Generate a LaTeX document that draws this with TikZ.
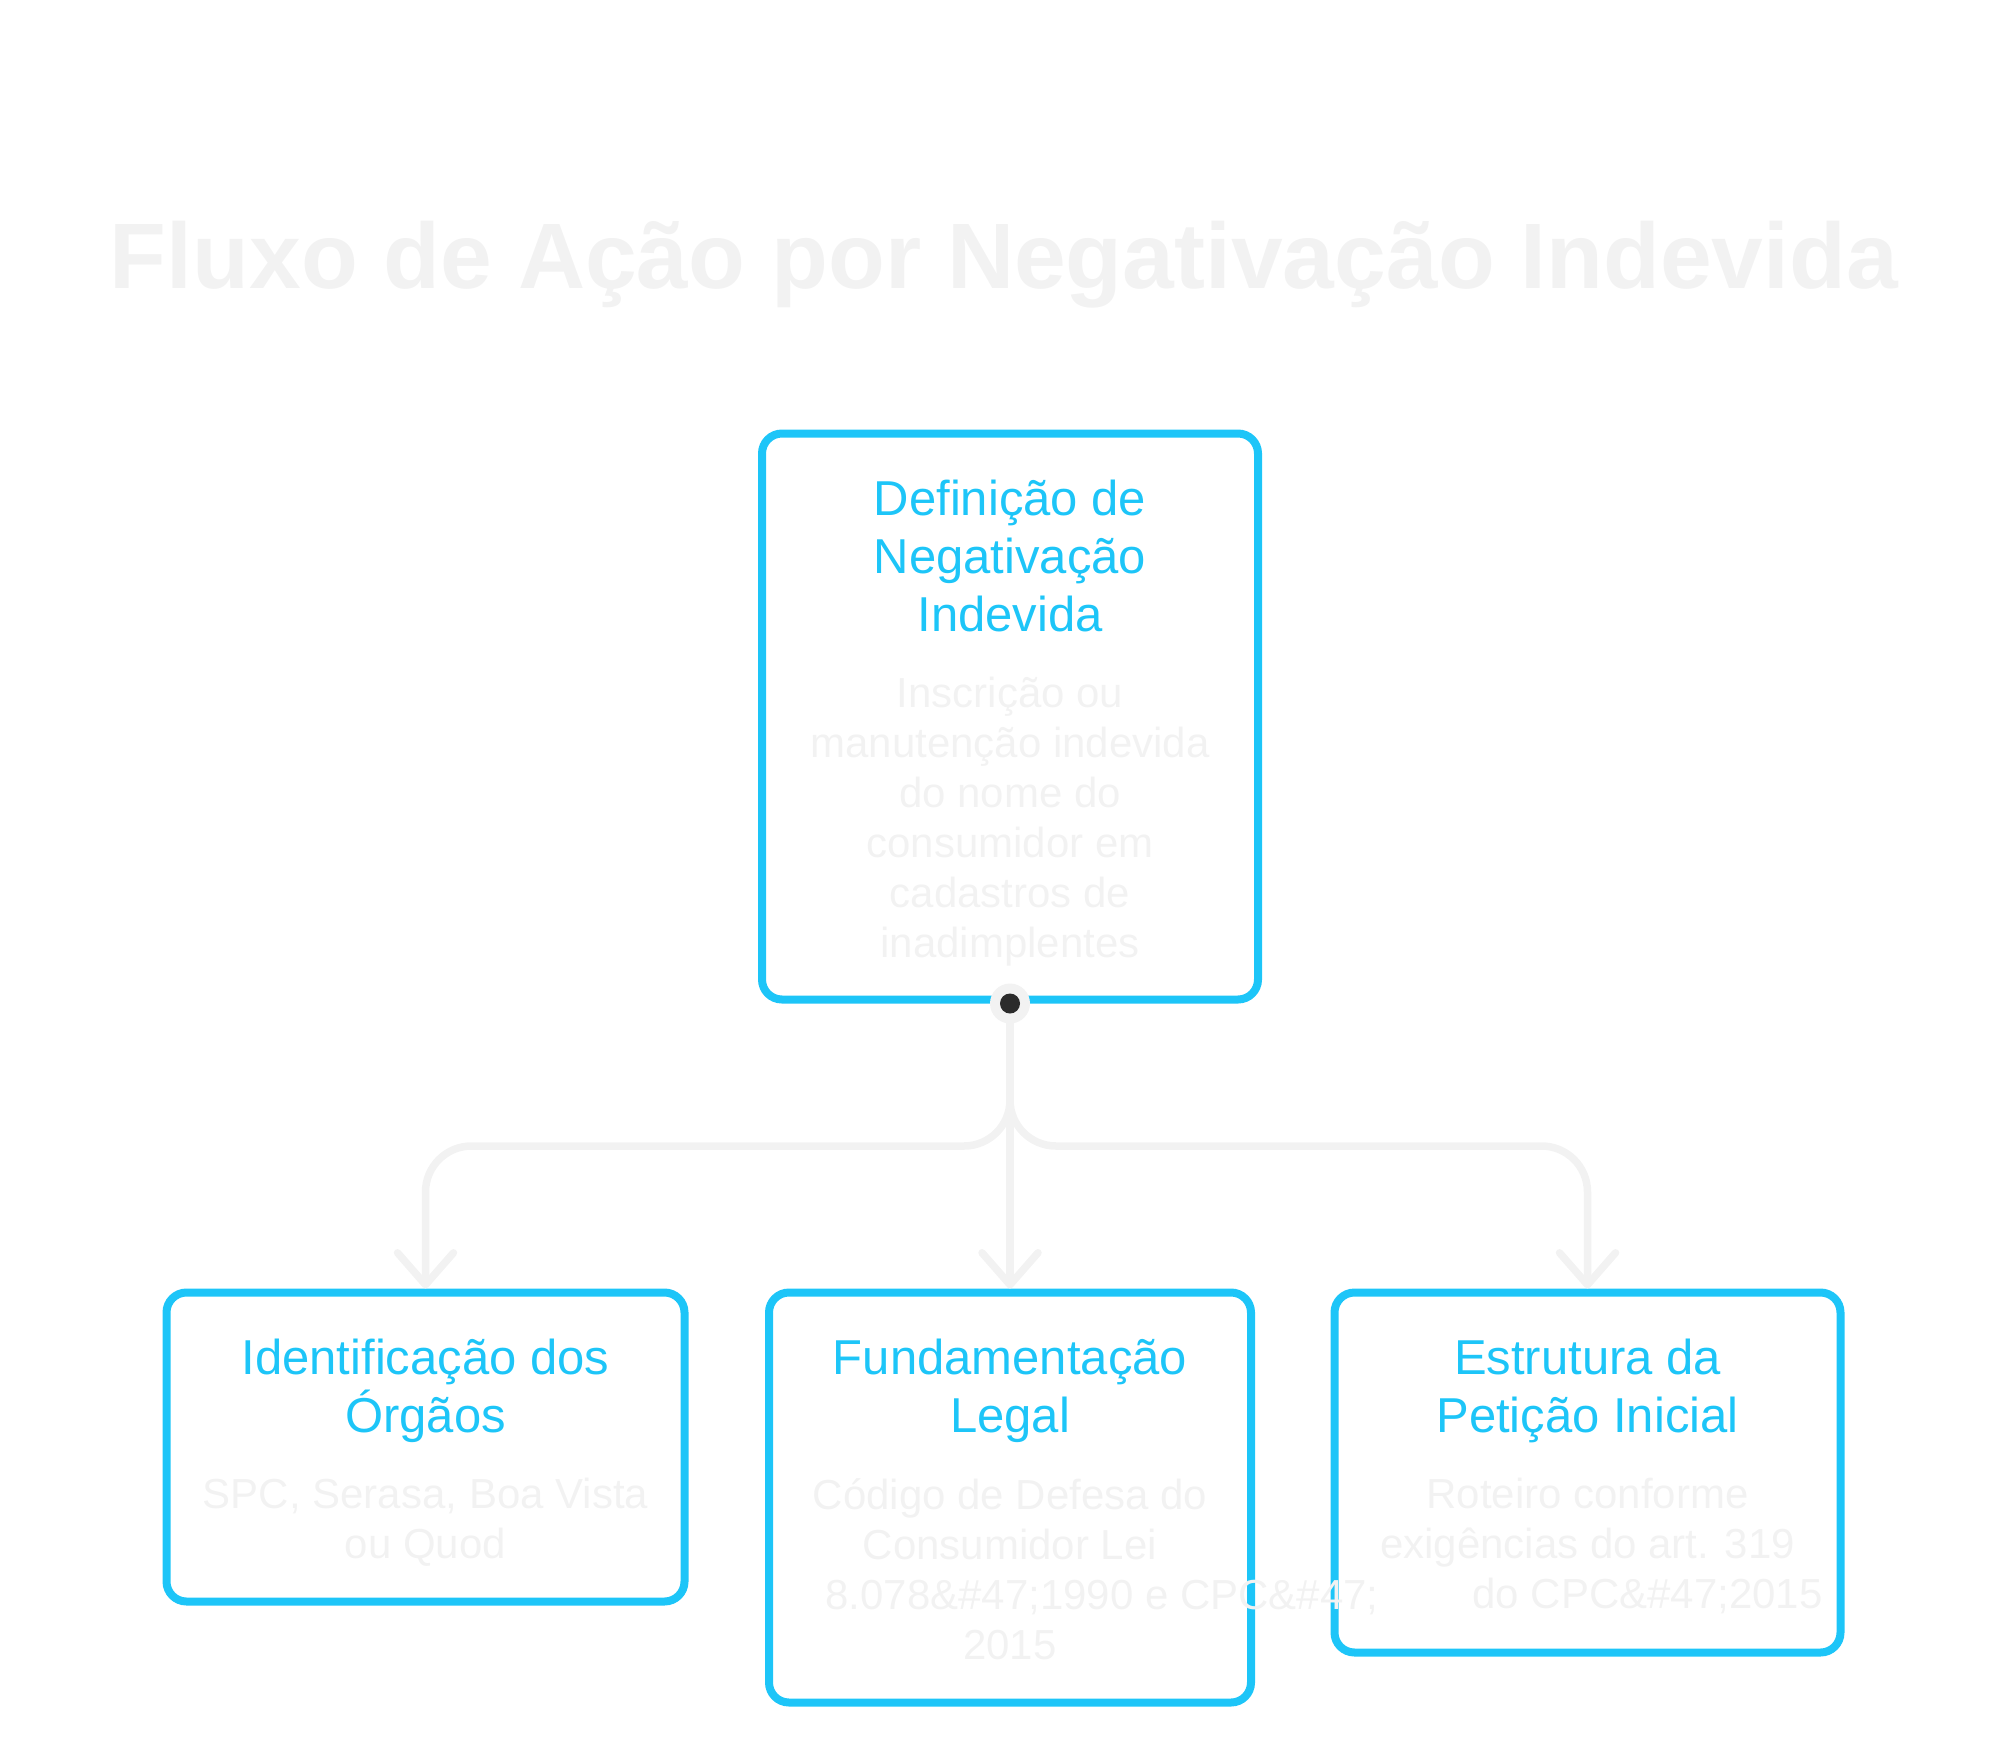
\documentclass[tikz,border=0pt]{standalone}
\usepackage{fontspec}
\setmainfont{Liberation Sans}
\usepackage{tikz}
\usetikzlibrary{arrows.meta,calc,positioning}
\definecolor{cardcyan}{HTML}{1DC5F8}
\colorlet{paleink}{black!5}
\definecolor{dotink}{HTML}{2B2B2B}

\begin{document}
\begin{tikzpicture}[x=0.5pt,y=-0.5pt,>={Straight Barb[length=16pt,width=28pt,round]},
  card/.style={draw=cardcyan,line width=4pt,rounded corners=10pt,anchor=north,inner sep=0pt},
  cardtitle/.style={anchor=north,align=center,inner sep=0pt,text=cardcyan,font=\fontsize{24.5pt}{29pt}\selectfont},
  carddesc/.style={anchor=north,align=center,inner sep=0pt,text=paleink,font=\fontsize{21pt}{25pt}\selectfont},
  flow/.style={->,draw=paleink,line width=3.75pt,rounded corners=23pt}]
\useasboundingbox (0,0) rectangle (2008,1762);
\node[anchor=base,text=paleink,font=\fontsize{46.5pt}{56pt}\selectfont\bfseries] (heading) at (1004,288) {Fluxo de Ação por Negativação Indevida};
% boxes
\node[card,minimum width=248pt,minimum height=283pt] (defin) at (1010,429.5) {};
\node[card,minimum width=259pt,minimum height=154.5pt] (orgaos) at (425.5,1288.5) {};
\node[card,minimum width=241pt,minimum height=205pt] (fundam) at (1010,1288.5) {};
\node[card,minimum width=253pt,minimum height=180pt] (peticao) at (1587.5,1288.5) {};
% connectors
\coordinate (split) at ($(defin.south)!0.5!(fundam.north)$);
\draw[flow] (defin.south) -- (split) -| (orgaos.north);
\draw[flow] (defin.south) -- (fundam.north);
\draw[flow] (defin.south) -- (split) -| (peticao.north);
\fill[paleink] (defin.south) circle (10pt);
\fill[dotink] (defin.south) circle (5pt);
% texts
\node[cardtitle] (defin-t) at ($(defin.north)+(0,50)$) {Definição de\\Negativação\\Indevida};
\node[carddesc] (defin-d) at ($(defin.north)+(0,247.5)$) {Inscrição ou\\manutenção indevida\\do nome do\\consumidor em\\cadastros de\\inadimplentes};
\node[cardtitle] (orgaos-t) at ($(orgaos.north)+(0,50)$) {Identificação dos\\Órgãos};
\node[carddesc] (orgaos-d) at ($(orgaos.north)+(0,189.5)$) {SPC, Serasa, Boa Vista\\ou Quod};
\node[cardtitle] (fundam-t) at ($(fundam.north)+(0,50)$) {Fundamentação\\Legal};
\node[carddesc] (fundam-d) at ($(fundam.north)+(0,189.5)$) {Código de Defesa do\\Consumidor Lei\\\hspace*{92pt}8.078\&\#47;1990 e CPC\&\#47;\\2015};
\node[cardtitle] (peticao-t) at ($(peticao.north)+(0,50)$) {Estrutura da\\Petição Inicial};
\node[carddesc] (peticao-d) at ($(peticao.north)+(0,189.5)$) {Roteiro conforme\\exigências do art. 319\\\hspace*{60pt}do CPC\&\#47;2015};
\end{tikzpicture}
\end{document}
